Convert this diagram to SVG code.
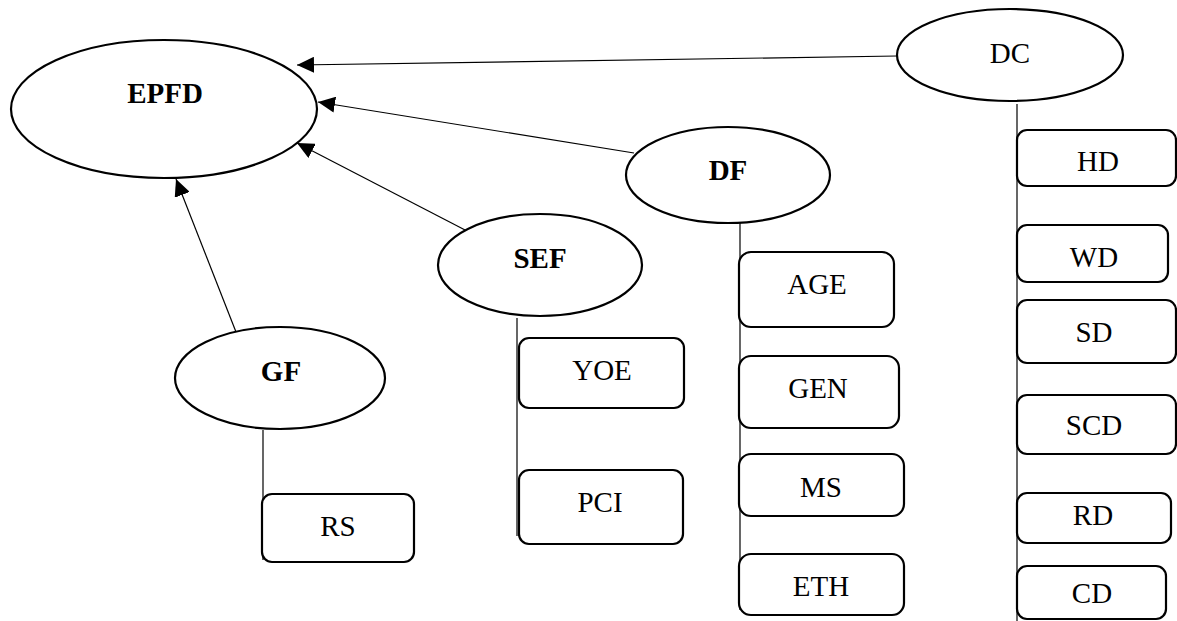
<svg xmlns="http://www.w3.org/2000/svg" width="1177" height="621" viewBox="0 0 1177 621">
<defs>
<marker id="arrow" markerUnits="userSpaceOnUse" markerWidth="18" markerHeight="16" viewBox="0 0 18 16" refX="17" refY="8" orient="auto">
<path d="M0,0 L17,8 L0,16 Z" fill="#000"/>
</marker>
</defs>
<style>
.el{fill:#fff;stroke:#000;stroke-width:2.2}
.bx{fill:#fff;stroke:#000;stroke-width:2.2}
.ln{stroke:#000;stroke-width:1.2;fill:none}
.t{font-family:"Liberation Serif","Times New Roman",serif;font-size:29px;text-anchor:middle;fill:#000}
.b{font-weight:bold}
</style>
<rect width="1177" height="621" fill="#fff"/>
<g id="connectors">
<line class="ln" x1="897" y1="56" x2="297" y2="65" marker-end="url(#arrow)"/>
<line class="ln" x1="634" y1="153" x2="318" y2="102" marker-end="url(#arrow)"/>
<line class="ln" x1="467" y1="231" x2="297" y2="143" marker-end="url(#arrow)"/>
<line class="ln" x1="236" y1="332" x2="176" y2="179" marker-end="url(#arrow)"/>
<line class="ln" x1="263" y1="430" x2="263" y2="560"/>
<line class="ln" x1="517" y1="318" x2="517" y2="536"/>
<line class="ln" x1="740" y1="223" x2="740" y2="610"/>
<line class="ln" x1="1017" y1="104" x2="1017" y2="621"/>
</g>
<g id="EPFD"><ellipse class="el" cx="164" cy="109" rx="153" ry="69"/><text class="t b" x="165" y="103">EPFD</text></g>
<g id="DC"><ellipse class="el" cx="1010" cy="55" rx="113" ry="46"/><text class="t" x="1010" y="63">DC</text></g>
<g id="DF"><ellipse class="el" cx="728" cy="175" rx="102" ry="48"/><text class="t b" x="728" y="180">DF</text></g>
<g id="SEF"><ellipse class="el" cx="540" cy="265" rx="102" ry="51"/><text class="t b" x="540" y="268">SEF</text></g>
<g id="GF"><ellipse class="el" cx="280" cy="378" rx="105" ry="51"/><text class="t b" x="281" y="381">GF</text></g>
<g id="RS"><rect class="bx" x="262" y="494" width="152" height="68" rx="10"/><text class="t" x="338" y="536">RS</text></g>
<g id="YOE"><rect class="bx" x="519" y="338" width="165" height="70" rx="10"/><text class="t" x="602" y="380">YOE</text></g>
<g id="PCI"><rect class="bx" x="519" y="470" width="164" height="74" rx="10"/><text class="t" x="600" y="512">PCI</text></g>
<g id="AGE"><rect class="bx" x="739" y="252" width="155" height="75" rx="12"/><text class="t" x="817" y="294">AGE</text></g>
<g id="GEN"><rect class="bx" x="739" y="356" width="160" height="72" rx="12"/><text class="t" x="818" y="398">GEN</text></g>
<g id="MS"><rect class="bx" x="739" y="454" width="165" height="62" rx="12"/><text class="t" x="821" y="497">MS</text></g>
<g id="ETH"><rect class="bx" x="739" y="554" width="165" height="61" rx="12"/><text class="t" x="821" y="596">ETH</text></g>
<g id="HD"><rect class="bx" x="1017" y="130" width="159" height="56" rx="10"/><text class="t" x="1098" y="171">HD</text></g>
<g id="WD"><rect class="bx" x="1017" y="225" width="151" height="57" rx="10"/><text class="t" x="1094" y="267">WD</text></g>
<g id="SD"><rect class="bx" x="1017" y="300" width="159" height="63" rx="10"/><text class="t" x="1094" y="342">SD</text></g>
<g id="SCD"><rect class="bx" x="1017" y="395" width="159" height="59" rx="10"/><text class="t" x="1094" y="435">SCD</text></g>
<g id="RD"><rect class="bx" x="1017" y="493" width="154" height="50" rx="10"/><text class="t" x="1093" y="525">RD</text></g>
<g id="CD"><rect class="bx" x="1017" y="566" width="149" height="53" rx="10"/><text class="t" x="1092" y="603">CD</text></g>
</svg>
